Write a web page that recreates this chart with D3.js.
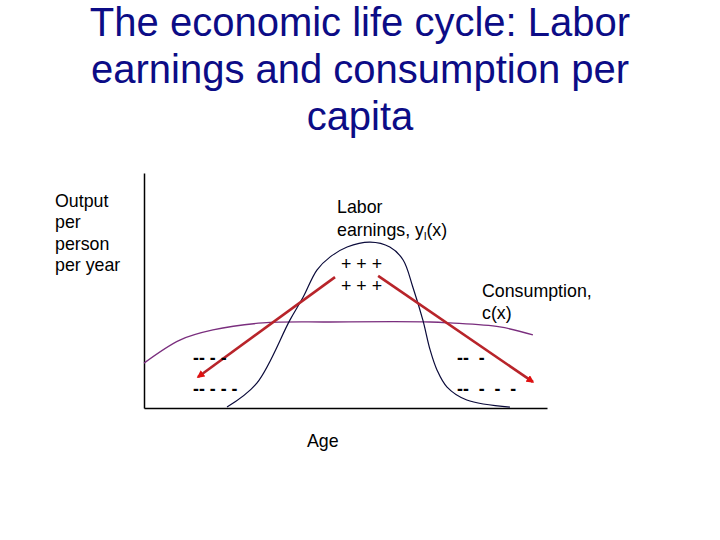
<!DOCTYPE html>
<html>
<head>
<meta charset="utf-8">
<script src="https://cdn.jsdelivr.net/npm/d3@7"></script>
<style>
  html, body { margin: 0; padding: 0; background: #ffffff; }
  svg { display: block; }
  text { font-family: "Liberation Sans", Arial, sans-serif; }
</style>
</head>
<body>
<svg id="chart" width="720" height="540"></svg>
<script>
// ---- data (age in years, value in arbitrary units 0-100) ----
const titleLines = ["The economic life cycle: Labor", "earnings and consumption per", "capita"];
const earningsAge   = [20.6, 28.0, 36.2, 39.5, 42.9, 46.2, 50.4, 56.1, 61.0, 64.3, 66.7, 69.2, 71.0, 72.7, 75.2, 80.1, 90.8];
const earningsValue = [0.4, 10.6, 37.4, 47.2, 58.7, 64.3, 68.5, 70.6, 68.5, 63.0, 51.5, 37.4, 24.7, 16.2, 8.9, 3.4, 0.4];
const consumptionAge   = [0, 8.9, 17.1, 29.5, 46.2, 71.0, 75.9, 88.3, 96.5];
const consumptionValue = [19.1, 28.9, 33.2, 36.2, 36.6, 36.6, 36.2, 34.5, 31.1];
const arrowFromAge   = [47.4, 58.1];
const arrowFromValue = [55.7, 56.2];
const arrowToAge     = [13.4, 96.5];
const arrowToValue   = [13.2, 11.1];
const yLabelLines = ["Output", "per", "person", "per year"];

const svg = d3.select("#chart");
const x = d3.scaleLinear().domain([0, 100]).range([144, 547]);
const y = d3.scaleLinear().domain([0, 100]).range([408, 173]);

// title
const title = svg.append("g");
titleLines.forEach((t, i) => {
  title.append("text")
    .attr("x", 360).attr("y", 36 + i * 47)
    .attr("text-anchor", "middle")
    .attr("font-size", 40)
    .attr("fill", "#0c0c86")
    .text(t);
});

// axes (no ticks)
svg.append("g").attr("transform", `translate(0,${y(0)})`)
  .call(d3.axisBottom(x).ticks(0).tickSize(0).tickSizeOuter(0))
  .call(g => g.select(".domain").attr("stroke", "#000").attr("stroke-width", 1.5));
svg.append("g").attr("transform", `translate(${x(0)},0)`)
  .call(d3.axisLeft(y).ticks(0).tickSize(0).tickSizeOuter(0))
  .call(g => g.select(".domain").attr("stroke", "#000").attr("stroke-width", 1.5));

// curves
const earnings = earningsAge.map((a, i) => [a, earningsValue[i]]);
const consumption = consumptionAge.map((a, i) => [a, consumptionValue[i]]);
const line = d3.line().x(d => x(d[0])).y(d => y(d[1])).curve(d3.curveCatmullRom.alpha(0.5));

svg.append("path").datum(consumption).attr("d", line)
  .attr("fill", "none").attr("stroke", "#7a2e7e").attr("stroke-width", 1.3);
svg.append("path").datum(earnings).attr("d", line)
  .attr("fill", "none").attr("stroke", "#0a0a3a").attr("stroke-width", 1.2);

// arrows
svg.append("defs").append("marker")
  .attr("id", "ah").attr("viewBox", "0 0 10 10").attr("refX", 8).attr("refY", 5)
  .attr("markerWidth", 3).attr("markerHeight", 3).attr("orient", "auto")
  .attr("markerUnits", "strokeWidth")
  .append("path").attr("d", "M0,0 L10,5 L0,10 z").attr("fill", "#e01010");

arrowFromAge.forEach((a, i) => {
  svg.append("line")
    .attr("x1", x(a)).attr("y1", y(arrowFromValue[i]))
    .attr("x2", x(arrowToAge[i])).attr("y2", y(arrowToValue[i]))
    .attr("stroke", "#b8242a").attr("stroke-width", 2.6)
    .attr("marker-end", "url(#ah)");
});

// labels
const fs = 17.8;
yLabelLines.forEach((t, i) => {
  svg.append("text").attr("x", 55).attr("y", 207 + i * 21.3).attr("font-size", fs).attr("fill", "#000").text(t);
});

svg.append("text").attr("x", 337).attr("y", 213).attr("font-size", fs).text("Labor");
const el = svg.append("text").attr("x", 337).attr("y", 236).attr("font-size", fs);
el.append("tspan").text("earnings, y");
el.append("tspan").attr("font-size", 11).attr("dy", 4).text("l");
el.append("tspan").attr("dy", -4).text("(x)");

svg.append("text").attr("x", 482).attr("y", 297).attr("font-size", fs).text("Consumption,");
svg.append("text").attr("x", 482).attr("y", 319).attr("font-size", fs).text("c(x)");

svg.append("text").attr("x", 307).attr("y", 447).attr("font-size", fs).text("Age");

function pre(xp, yp, t, bold) {
  svg.append("text").attr("x", xp).attr("y", yp).attr("font-size", fs)
    .attr("font-weight", bold ? "bold" : "normal")
    .attr("xml:space", "preserve").style("white-space", "pre").text(t);
}
pre(341, 270, "+ + +", false);
pre(341, 292, "+ + +", false);
pre(193, 364, "-- - -", true);
pre(193, 395, "-- - - -", true);
pre(457, 364, "--  -", true);
pre(457, 395, "--  -  -  -", true);
</script>
</body>
</html>
